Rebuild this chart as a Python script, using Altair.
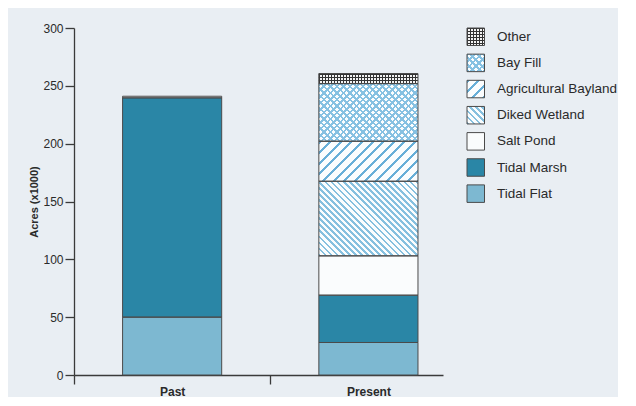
import math
import altair as alt
import pandas as pd

# ---------------- data ----------------
categories = ["Tidal Flat", "Tidal Marsh", "Salt Pond", "Diked Wetland",
              "Agricultural Bayland", "Bay Fill", "Other"]
periods = ["Past", "Present"]
past_values = [50.0, 189.6, 0.0, 0.0, 0.0, 0.0, 1.4]
present_values = [28.1, 40.9, 34.0, 64.5, 34.6, 49.8, 8.7]
legend_order = ["Other", "Bay Fill", "Agricultural Bayland", "Diked Wetland",
                "Salt Pond", "Tidal Marsh", "Tidal Flat"]
y_ticks = [0, 50, 100, 150, 200, 250, 300]

rows = []
for period, vals in zip(periods, [past_values, present_values]):
    base = 0.0
    for cat, v in zip(categories, vals):
        if v > 0:
            rows.append(dict(Period=period, Category=cat, start=base, end=base + v, value=v))
        base += v
df = pd.DataFrame(rows)
legend_df = pd.DataFrame({"Category": legend_order})

# ---------------- styles ----------------
FONT = "Liberation Sans"
INK = "#2a2a2a"
EDGE = "#4a4a4a"
PLOT_W, PLOT_H = 369, 347
Y_MAX = 300
BAR_W = 99.1
SW = 17.5  # legend swatch size

base_fill = {
    "Tidal Flat": "#7db8d1",
    "Tidal Marsh": "#2a86a6",
    "Salt Pond": "#fafcfd",
    "Diked Wetland": "#fbfdfe",
    "Agricultural Bayland": "#fbfdfe",
    "Bay Fill": "#fbfdfe",
    "Other": "#f4f4f4",
}
patterns = {
    "Diked Wetland": [("\\", 4.3, 0.45, "#86c0df")],
    "Agricultural Bayland": [("/", 7.5, 0.28, "#68afd8")],
    "Bay Fill": [("\\", 4.6, 0.42, "#86c1e2"), ("/", 4.6, 0.42, "#86c1e2")],
    "Other": [("|", 3.0, 0.4, "#333333"), ("-", 3.0, 0.4, "#333333")],
}
CLEAR = "rgba(255,255,255,0)"


def stripes(w, h, kind, period, frac, color):
    normals = {"\\": (1, -1), "/": (1, 1), "|": (1, 0), "-": (0, 1)}
    nx, ny = normals[kind]
    n = math.hypot(nx, ny)
    nx, ny = nx / n, ny / n
    corners = [(0, 0), (1, 0), (0, 1), (1, 1)]
    proj = [cu * w * nx + cv * h * ny for cu, cv in corners]
    i0 = proj.index(min(proj))
    L = max(proj) - min(proj)
    A, B = w * nx / L, h * ny / L
    s = A * A + B * B
    du, dv = A / s, B / s
    x1, y1 = corners[i0]
    stops = []
    line = period * frac
    d = 0.0
    while d < L - 1e-6:
        a = d / L
        b = min((d + line) / L, 1.0)
        c = min((d + period) / L, 1.0)
        stops += [(a, color), (b, color), (b, CLEAR), (c, CLEAR)]
        d += period
    return {
        "gradient": "linear",
        "x1": x1, "y1": y1, "x2": x1 + du, "y2": y1 + dv,
        "stops": [{"offset": round(o, 5), "color": col} for o, col in stops],
    }


color_enc = alt.Color(
    "Category:N",
    scale=alt.Scale(domain=categories, range=[base_fill[c] for c in categories]),
    legend=None,
)

x_enc = alt.X(
    "Period:N",
    sort=periods,
    scale=alt.Scale(domain=periods, paddingInner=0.495, paddingOuter=0.1875, align=0.66),
    axis=alt.Axis(
        title=None, labelAngle=0, labelFontSize=12, labelFontWeight="bold",
        tickSize=9, tickWidth=1.3, tickOffset=-98.15, labelOffset=98.15,
        labelPadding=2, domainWidth=1.3,
    ),
)
y_enc = alt.Y(
    "start:Q",
    scale=alt.Scale(domain=[0, Y_MAX], nice=False),
    axis=alt.Axis(
        values=y_ticks, title="Acres (x1000)", grid=False, tickSize=9, tickWidth=1.3,
        labelFontSize=12, labelPadding=2, titleFontSize=11, titleFontWeight="bold",
        titlePadding=3, domainWidth=1.3,
    ),
)

base = alt.Chart(df).mark_bar(strokeWidth=0).encode(
    x=x_enc, y=y_enc, y2="end:Q", color=color_enc
)

layers = [base]
seg_h = {c: v * PLOT_H / Y_MAX for c, v in zip(categories, present_values)}
for cat, pats in patterns.items():
    for kind, period, frac, col in pats:
        grad = stripes(BAR_W, seg_h[cat], kind, period, frac, col)
        layers.append(
            alt.Chart(df)
            .transform_filter(f"datum.Category == '{cat}' && datum.Period == 'Present'")
            .mark_bar(fill=grad, strokeWidth=0)
            .encode(x=x_enc, y=y_enc, y2="end:Q")
        )
layers.append(
    alt.Chart(df).mark_bar(fillOpacity=0, stroke=EDGE, strokeWidth=1)
    .encode(x=x_enc, y=y_enc, y2="end:Q")
)
main = alt.layer(*layers).properties(width=PLOT_W, height=PLOT_H)

# ---------------- legend panel ----------------
ly = alt.Y(
    "Category:N", sort=legend_order,
    scale=alt.Scale(domain=legend_order, paddingInner=0.331, paddingOuter=0),
    axis=None,
)
leg_layers = [
    alt.Chart(legend_df).mark_rect(strokeWidth=0).encode(
        y=ly, x=alt.value(0), x2=alt.value(SW), color=color_enc
    )
]
for cat, pats in patterns.items():
    for kind, period, frac, col in pats:
        grad = stripes(SW, SW, kind, period, frac, col)
        leg_layers.append(
            alt.Chart(legend_df)
            .transform_filter(f"datum.Category == '{cat}'")
            .mark_rect(fill=grad, strokeWidth=0)
            .encode(y=ly, x=alt.value(0), x2=alt.value(SW))
        )
leg_layers.append(
    alt.Chart(legend_df).mark_rect(fillOpacity=0, stroke=EDGE, strokeWidth=1)
    .encode(y=ly, x=alt.value(0), x2=alt.value(SW))
)
leg_layers.append(
    alt.Chart(legend_df).mark_text(
        align="left", baseline="middle", font=FONT, fontSize=13.5, color=INK
    ).encode(y=ly, x=alt.value(30), text="Category:N")
)
legend = alt.layer(*leg_layers).properties(width=143, height=174.4)

chart = (
    alt.hconcat(main, legend, spacing=23)
    .resolve_scale(x="independent", y="independent")
    .properties(padding={"left": 20, "top": 14, "right": 0, "bottom": 0})
    .configure(background="#e9eef3", font=FONT)
    .configure_view(stroke=None)
    .configure_axis(
        domainColor="#3a3a3a", tickColor="#3a3a3a", labelColor=INK,
        titleColor=INK, labelFont=FONT, titleFont=FONT,
    )
)

chart.save("out.html", embed_options={"renderer": "svg", "actions": False})
